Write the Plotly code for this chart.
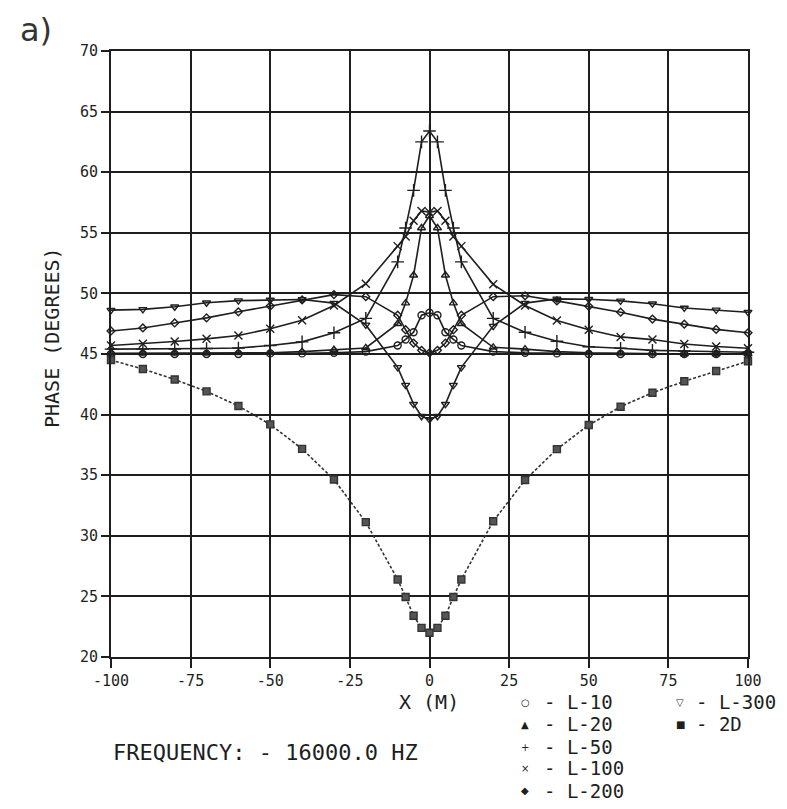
import plotly.graph_objects as go

# ---------------- data ----------------
x_m = [-100, -90, -80, -70, -60, -50, -40, -30, -20, -10, -7.5, -5, -2.5, 0,
       2.5, 5, 7.5, 10, 20, 30, 40, 50, 60, 70, 80, 90, 100]

phase_L10 = [45.0, 45.0, 45.0, 45.0, 45.0, 45.05, 45.05, 45.1, 45.2, 45.7, 46.2, 46.8, 48.2, 48.4,
             48.2, 46.8, 46.2, 45.7, 45.2, 45.1, 45.05, 45.0, 45.0, 45.0, 45.0, 45.0, 45.0]
phase_L20 = [45.05, 45.05, 45.05, 45.05, 45.1, 45.1, 45.2, 45.35, 45.5, 47.5, 49.2, 51.5, 55.4, 56.4,
             55.4, 51.5, 49.2, 47.5, 45.55, 45.4, 45.2, 45.1, 45.05, 45.05, 45.0, 45.0, 45.0]
phase_L50 = [45.4, 45.4, 45.4, 45.45, 45.5, 45.7, 46.0, 46.75, 47.94, 52.6, 55.4, 58.5, 62.5, 63.4,
             62.5, 58.5, 55.4, 52.6, 47.94, 46.8, 46.05, 45.6, 45.48, 45.3, 45.25, 45.2, 45.15]
phase_L100 = [45.7, 45.84, 46.03, 46.25, 46.53, 47.09, 47.79, 49.0, 50.8, 53.9, 54.7, 56.0, 56.8, 56.7,
              56.8, 56.0, 54.7, 53.9, 50.75, 49.0, 47.77, 47.0, 46.41, 46.19, 45.82, 45.62, 45.48]
phase_L200 = [46.9, 47.15, 47.56, 47.98, 48.48, 48.96, 49.46, 49.9, 49.73, 48.2, 47.0, 45.9, 45.3, 45.1,
              45.3, 45.9, 47.0, 48.2, 49.73, 49.8, 49.38, 48.93, 48.45, 47.88, 47.46, 47.03, 46.75]
phase_L300 = [48.62, 48.68, 48.9, 49.23, 49.4, 49.46, 49.5, 49.2, 47.4, 43.9, 42.43, 40.86, 39.86, 39.6,
              39.86, 40.86, 42.43, 43.9, 47.3, 49.2, 49.55, 49.52, 49.38, 49.15, 48.8, 48.64, 48.45]
phase_2D = [44.5, 43.76, 42.9, 41.92, 40.71, 39.19, 37.17, 34.64, 31.13, 26.4, 24.95, 23.4, 22.4, 22.0,
            22.4, 23.4, 24.95, 26.4, 31.2, 34.6, 37.15, 39.14, 40.65, 41.8, 42.75, 43.6, 44.4]

x_ticks = [-100, -75, -50, -25, 0, 25, 50, 75, 100]
y_ticks = [20, 25, 30, 35, 40, 45, 50, 55, 60, 65, 70]

series_names = ["L-10", "L-20", "L-50", "L-100", "L-200", "L-300", "2D"]
series_values = [phase_L10, phase_L20, phase_L50, phase_L100, phase_L200, phase_L300, phase_2D]
legend_glyphs = ["○", "▲", "+", "×", "◆", "▽", "■"]

# ---------------- styles ----------------
INK = "#1e1e1e"
MONO = "DejaVu Sans Mono"
styles = {
    "L-10": dict(symbol="circle-open", size=7),
    "L-20": dict(symbol="triangle-up-open", size=7),
    "L-50": dict(symbol="cross-thin-open", size=9),
    "L-100": dict(symbol="x-thin-open", size=8),
    "L-200": dict(symbol="diamond-open", size=6),
    "L-300": dict(symbol="triangle-down-open", size=7),
    "2D": dict(symbol="square", size=7),
}

fig = go.Figure()
for name, vals in zip(series_names, series_values):
    st = styles[name]
    is2d = name == "2D"
    fig.add_trace(go.Scatter(
        x=x_m, y=vals, mode="lines+markers", name=name,
        line=dict(color="#333333" if is2d else INK, width=1.6,
                  dash="3px,2px" if is2d else "solid"),
        marker=dict(symbol=st["symbol"], size=st["size"],
                    color="#555555" if is2d else INK,
                    line=dict(color="#333333" if is2d else INK, width=1.4)),
        cliponaxis=False,
    ))

# plot area in reference page pixels; the page body adds an 8 px margin
OFF = 8
L, R, T, B = 111, 748, 51, 657
W, H = 787 - OFF, 809 - OFF


def px(xp):
    return (xp - L) / (R - L)


def py(yp):
    return (B - yp) / (B - T)


fig.update_layout(
    width=W, height=H,
    margin=dict(l=L - OFF, r=W - (R - OFF), t=T - OFF, b=H - (B - OFF), pad=0),
    paper_bgcolor="white", plot_bgcolor="white",
    showlegend=False,
    font=dict(family=MONO, color=INK),
)
fig.update_xaxes(
    range=[-100, 100], tickvals=x_ticks, ticktext=[str(v) for v in x_ticks],
    ticks="outside", ticklen=9, tickwidth=1.6, tickcolor=INK,
    showgrid=True, gridcolor=INK, gridwidth=1.8,
    showline=True, linecolor=INK, linewidth=1.8, mirror=True,
    zeroline=False, tickfont=dict(family=MONO, size=15, color=INK),
)
fig.update_yaxes(
    range=[20, 70], tickvals=y_ticks, ticktext=[str(v) for v in y_ticks],
    ticks="outside", ticklen=8, tickwidth=1.6, tickcolor=INK,
    showgrid=True, gridcolor=INK, gridwidth=1.8,
    showline=True, linecolor=INK, linewidth=1.8, mirror=True,
    zeroline=False, tickfont=dict(family=MONO, size=15, color=INK),
)

ann = []
# axis titles
ann.append(dict(text="PHASE (DEGREES)", x=px(52), y=py(338), xref="paper", yref="paper",
                showarrow=False, textangle=-90, xanchor="center", yanchor="middle",
                font=dict(family=MONO, size=20, color=INK)))
ann.append(dict(text="X (M)", x=px(429), y=py(702), xref="paper", yref="paper",
                showarrow=False, xanchor="center", yanchor="middle",
                font=dict(family=MONO, size=20, color=INK)))
ann.append(dict(text="FREQUENCY: - 16000.0 HZ", x=px(111), y=py(752), xref="paper", yref="paper",
                showarrow=False, xanchor="left", yanchor="middle",
                font=dict(family=MONO, size=22, color=INK)))
# hand-written panel label
ann.append(dict(text="a)", x=px(36), y=py(30), xref="paper", yref="paper",
                showarrow=False, xanchor="center", yanchor="middle",
                font=dict(family="DejaVu Sans", size=32, color="#333333")))

# legend (two columns of text)
rows_y = [702, 724, 747, 768, 791]
col_pos = [(525, 542), (680, 694)]
for i, (name, glyph) in enumerate(zip(series_names, legend_glyphs)):
    col = 0 if i < 5 else 1
    row = i if i < 5 else i - 5
    sx, tx = col_pos[col]
    ann.append(dict(text=glyph, x=px(sx), y=py(rows_y[row]), xref="paper", yref="paper",
                    showarrow=False, xanchor="center", yanchor="middle",
                    font=dict(family="DejaVu Sans", size=10, color=INK)))
    ann.append(dict(text="- " + name, x=px(tx), y=py(rows_y[row]), xref="paper", yref="paper",
                    showarrow=False, xanchor="left", yanchor="middle", height=20,
                    font=dict(family=MONO, size=19, color=INK)))

fig.update_layout(annotations=ann)
fig.write_html("out.html")
